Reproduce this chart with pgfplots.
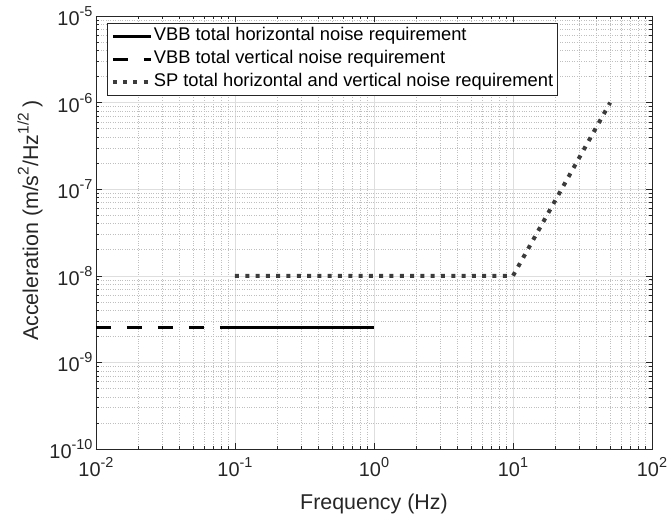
\documentclass[border=0pt]{standalone}
\usepackage{fontspec}
\setmainfont{Liberation Sans}
\usepackage{pgfplots}
\pgfplotsset{compat=1.18}
\definecolor{axgray}{RGB}{38,38,38}
\definecolor{spgray}{RGB}{60,60,60}
\newcommand\tp[1]{10\raisebox{0.45em}{\fontsize{14.5}{15}\selectfont #1}}
\begin{document}
\begin{tikzpicture}
\useasboundingbox (-96bp,-69bp) rectangle (572bp,449bp);
\begin{axis}[
  at={(0,0)}, anchor=south west,
  scale only axis, width=556bp, height=433bp,
  xmode=log, ymode=log,
  xmin=1e-2, xmax=1e2, ymin=1e-10, ymax=1e-5,
  xtick={1e-2,1e-1,1,1e1,1e2},
  xticklabels={\tp{-2},\tp{-1},\tp{0},\tp{1},\tp{2}},
  ytick={1e-10,1e-9,1e-8,1e-7,1e-6,1e-5},
  yticklabels={\tp{-10},\tp{-9},\tp{-8},\tp{-7},\tp{-6},\tp{-5}},
  grid=both,
  major grid style={draw=black!13, line width=0.6bp},
  minor grid style={draw=black!25, dotted, line width=0.5bp},
  tick align=inside,
  axis line style={draw=axgray, line width=0.8bp},
  major tick length=6bp, minor tick length=3.5bp,
  every tick/.style={axgray, line width=0.6bp},
  tick label style={font=\fontsize{20}{22}\selectfont, text=axgray},
  xticklabel style={yshift=-5bp},
  label style={font=\fontsize{21.5}{23}\selectfont, text=axgray},
  xlabel={Frequency (Hz)},
  ylabel={Acceleration (m/s\raisebox{0.45em}{\fontsize{15.5}{16}\selectfont 2}/Hz\raisebox{0.45em}{\fontsize{15.5}{16}\selectfont 1/2} )},
  xlabel style={at={(axis description cs:0.5,0)}, anchor=center, yshift=-55bp},
  ylabel style={at={(axis description cs:0,0.528)}, anchor=center, yshift=66bp},
  legend style={at={(axis description cs:0.0198,0.984)}, anchor=north west,
    draw=axgray, fill=white, line width=0.6bp,
    font=\fontsize{18.4}{20}\selectfont, text=black,
    inner sep=3.5bp, row sep=4bp,
    nodes={inner sep=1bp, text height=13bp, text depth=4bp},
    cells={anchor=west}},
  legend image code/.code={\draw[#1] (0bp,0bp) -- (38bp,0bp);},
]
\addplot[black, line width=3bp] coordinates {(0.1,2.5e-9) (1,2.5e-9)};
\addlegendentry{VBB total horizontal noise requirement}
\addplot[black, line width=3bp, dash pattern=on 15bp off 16bp] coordinates {(0.01,2.5e-9) (0.1,2.5e-9)};
\addlegendentry{VBB total vertical noise requirement}
\addplot[spgray, line width=4bp, dash pattern=on 4bp off 6.3bp] coordinates {(0.1,1e-8) (10,1e-8) (50,1e-6)};
\addlegendentry{SP total horizontal and vertical noise requirement}
\end{axis}
\end{tikzpicture}
\end{document}
